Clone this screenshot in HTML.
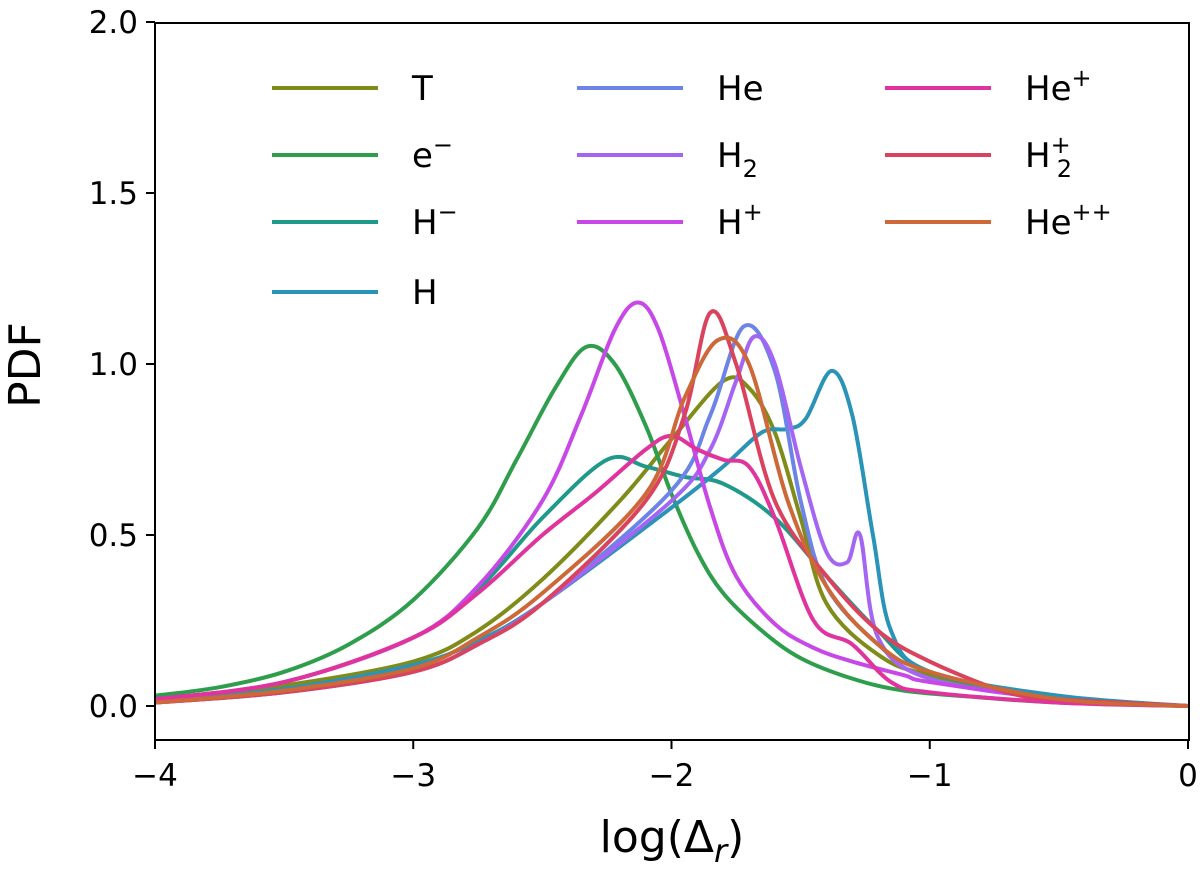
<!DOCTYPE html>
<html><head><meta charset="utf-8"><style>
body{margin:0;background:#fff}
svg text{font-family:"DejaVu Sans","Liberation Sans",sans-serif;fill:#000}
</style></head><body>
<svg id="chart" width="1200" height="878" viewBox="0 0 1200 878" xmlns="http://www.w3.org/2000/svg">
<g id="series"></g>
<rect x="155" y="23" width="1034" height="717" fill="none" stroke="#000" stroke-width="2"/>
<g id="axes"></g>
<g id="legend"></g>
<text x="0" y="0" font-size="44" text-anchor="middle" transform="translate(40,365) rotate(-90)">PDF</text>
<text x="672" y="852" font-size="44" text-anchor="middle">log(Δ<tspan font-style="italic" font-size="32" dy="10">r</tspan><tspan dy="-10">)</tspan></text>
</svg>
<script>
const xTicks=[-4,-3,-2,-1,0];
const xTickLabels=["−4","−3","−2","−1","0"];
const yTicks=[0,0.5,1.0,1.5,2.0];
const yTickLabels=["0.0","0.5","1.0","1.5","2.0"];
const names=["T","e","Hm","H","He","H2","Hp","Hep","H2p","Hepp"];
const colors=["#7f8c1a","#2e9e4c","#1f9a8a","#2a93b8","#6b84e6","#a466f2","#c748e6","#e0339e","#d9435e","#cd6838"];
const xT=[-4,-3.5,-3,-2.75,-2.5,-2.2,-2.0,-1.8,-1.7,-1.6,-1.5,-1.4,-1.2,-1,-0.5,0];
const yT=[0.02,0.06,0.13,0.22,0.37,0.6,0.78,0.95,0.93,0.8,0.55,0.3,0.15,0.09,0.02,0];
const xE=[-4,-3.75,-3.5,-3.25,-3,-2.75,-2.6,-2.45,-2.33,-2.22,-2.1,-2.0,-1.9,-1.8,-1.65,-1.5,-1.3,-1.1,-0.8,-0.5,0];
const yE=[0.03,0.055,0.1,0.18,0.31,0.52,0.72,0.93,1.05,1.0,0.82,0.62,0.45,0.33,0.22,0.14,0.08,0.045,0.025,0.01,0];
const xHm=[-4,-3.5,-3,-2.75,-2.5,-2.25,-2.1,-1.95,-1.8,-1.6,-1.4,-1.2,-1,-0.5,0];
const yHm=[0.02,0.07,0.2,0.34,0.55,0.72,0.7,0.67,0.65,0.55,0.38,0.22,0.1,0.02,0];
const xH=[-4,-3.5,-3,-2.75,-2.5,-2.0,-1.8,-1.65,-1.55,-1.48,-1.38,-1.3,-1.22,-1.15,-1,-0.5,0];
const yH=[0.01,0.05,0.12,0.19,0.3,0.58,0.7,0.8,0.81,0.84,0.98,0.85,0.5,0.22,0.1,0.03,0];
const xHe=[-4,-3.5,-3,-2.75,-2.5,-2.0,-1.85,-1.72,-1.6,-1.5,-1.4,-1.2,-1,-0.5,0];
const yHe=[0.01,0.04,0.1,0.18,0.3,0.63,0.85,1.11,0.98,0.6,0.35,0.18,0.08,0.02,0];
const xH2=[-4,-3.5,-3,-2.75,-2.5,-2.0,-1.85,-1.75,-1.68,-1.6,-1.5,-1.4,-1.32,-1.27,-1.2,-1,-0.5,0];
const yH2=[0.01,0.04,0.1,0.18,0.3,0.6,0.75,0.95,1.08,1.0,0.7,0.45,0.42,0.5,0.2,0.08,0.02,0];
const xHp=[-4,-3.5,-3,-2.75,-2.5,-2.35,-2.22,-2.13,-2.05,-1.95,-1.85,-1.75,-1.6,-1.45,-1.3,-1.1,-1,-0.5,0];
const yHp=[0.02,0.07,0.2,0.35,0.6,0.85,1.1,1.18,1.1,0.85,0.58,0.38,0.24,0.17,0.13,0.09,0.07,0.02,0];
const xHep=[-4,-3.5,-3,-2.75,-2.5,-2.3,-2.1,-2.0,-1.9,-1.8,-1.7,-1.6,-1.45,-1.3,-1.15,-1,-0.5,0];
const yHep=[0.02,0.07,0.2,0.33,0.5,0.62,0.75,0.79,0.75,0.72,0.7,0.55,0.25,0.18,0.07,0.04,0.01,0];
const xH2p=[-4,-3.5,-3,-2.75,-2.5,-2.1,-1.95,-1.85,-1.75,-1.6,-1.4,-1.2,-1,-0.7,-0.5,0];
const yH2p=[0.01,0.04,0.1,0.18,0.3,0.6,0.85,1.15,1.0,0.6,0.38,0.22,0.13,0.04,0.02,0];
const xHepp=[-4,-3.5,-3,-2.75,-2.5,-2.1,-1.95,-1.82,-1.7,-1.55,-1.4,-1.2,-1,-0.5,0];
const yHepp=[0.01,0.045,0.11,0.2,0.33,0.62,0.9,1.07,1.0,0.6,0.35,0.18,0.1,0.02,0];
const seriesX=[xT,xE,xHm,xH,xHe,xH2,xHp,xHep,xH2p,xHepp];
const seriesY=[yT,yE,yHm,yH,yHe,yH2,yHp,yHep,yH2p,yHepp];
const labels=['T','e<tspan dy="-14" font-size="24">−</tspan>','H<tspan dy="-14" font-size="24">−</tspan>','H','He','H<tspan dy="10" font-size="24">2</tspan>','H<tspan dy="-14" font-size="24">+</tspan>','He<tspan dy="-14" font-size="24">+</tspan>','H<tspan dy="-14" font-size="24">+</tspan><tspan dx="-14" dy="24" font-size="24">2</tspan>','He<tspan dy="-14" font-size="24">++</tspan>'];
const order=[0,1,2,3,4,5,6,7,8,9];
const NS="http://www.w3.org/2000/svg";
const X=v=>155+(v+4)*258.25;
const Y=v=>706-v*342;
function path(xs,ys){
  const p=xs.map((x,i)=>[X(x),Y(ys[i])]);
  let d="M"+p[0][0]+","+p[0][1];
  for(let i=0;i<p.length-1;i++){
    const p0=p[Math.max(0,i-1)],p1=p[i],p2=p[i+1],p3=p[Math.min(p.length-1,i+2)];
    const c1=[p1[0]+(p2[0]-p0[0])/6,p1[1]+(p2[1]-p0[1])/6];
    const c2=[p2[0]-(p3[0]-p1[0])/6,p2[1]-(p3[1]-p1[1])/6];
    d+=" C"+c1+" "+c2+" "+p2;
  }
  return d;
}
const sg=document.getElementById('series');
seriesX.forEach((xs,i)=>{
  const el=document.createElementNS(NS,'path');
  el.setAttribute('d',path(xs,seriesY[i]));
  el.setAttribute('fill','none');el.setAttribute('stroke',colors[i]);el.setAttribute('stroke-width','4');
  
  
  sg.appendChild(el);
});
const ax=document.getElementById('axes');
xTicks.forEach((t,i)=>{
  const l=document.createElementNS(NS,'line');
  l.setAttribute('x1',X(t));l.setAttribute('x2',X(t));l.setAttribute('y1',740);l.setAttribute('y2',749);l.setAttribute('stroke','#000');l.setAttribute('stroke-width','2');
  
  
  ax.appendChild(l);
  const tx=document.createElementNS(NS,'text');
  tx.setAttribute('x',X(t));tx.setAttribute('y',786);tx.setAttribute('font-size','31');tx.setAttribute('text-anchor','middle');
  tx.textContent=xTickLabels[i];
  
  
  ax.appendChild(tx);
});
yTicks.forEach((t,i)=>{
  const l=document.createElementNS(NS,'line');
  l.setAttribute('x1',146);l.setAttribute('x2',155);l.setAttribute('y1',Y(t));l.setAttribute('y2',Y(t));l.setAttribute('stroke','#000');l.setAttribute('stroke-width','2');
  
  
  ax.appendChild(l);
  const tx=document.createElementNS(NS,'text');
  tx.setAttribute('x',138);tx.setAttribute('y',Y(t)+11);tx.setAttribute('font-size','31');tx.setAttribute('text-anchor','end');
  tx.textContent=yTickLabels[i];
  
  
  ax.appendChild(tx);
});
const lg=document.getElementById('legend');
const colX=[272,577,885],rowY=[88,155,222,292];
const pos=[[0,0],[0,1],[0,2],[0,3],[1,0],[1,1],[1,2],[2,0],[2,1],[2,2]];
order.forEach(i=>{
  const [c,r]=pos[i];
  const g=document.createElementNS(NS,'g');
  
  
  const l=document.createElementNS(NS,'line');
  l.setAttribute('x1',colX[c]);l.setAttribute('x2',colX[c]+106);l.setAttribute('y1',rowY[r]);l.setAttribute('y2',rowY[r]);
  l.setAttribute('stroke',colors[i]);l.setAttribute('stroke-width','4');
  g.appendChild(l);
  const t=document.createElementNS(NS,'text');
  t.setAttribute('x',colX[c]+140);t.setAttribute('y',rowY[r]+12);t.setAttribute('font-size','34');
  t.innerHTML=labels[i];
  g.appendChild(t);
  lg.appendChild(g);
});
</script>
</body></html>
